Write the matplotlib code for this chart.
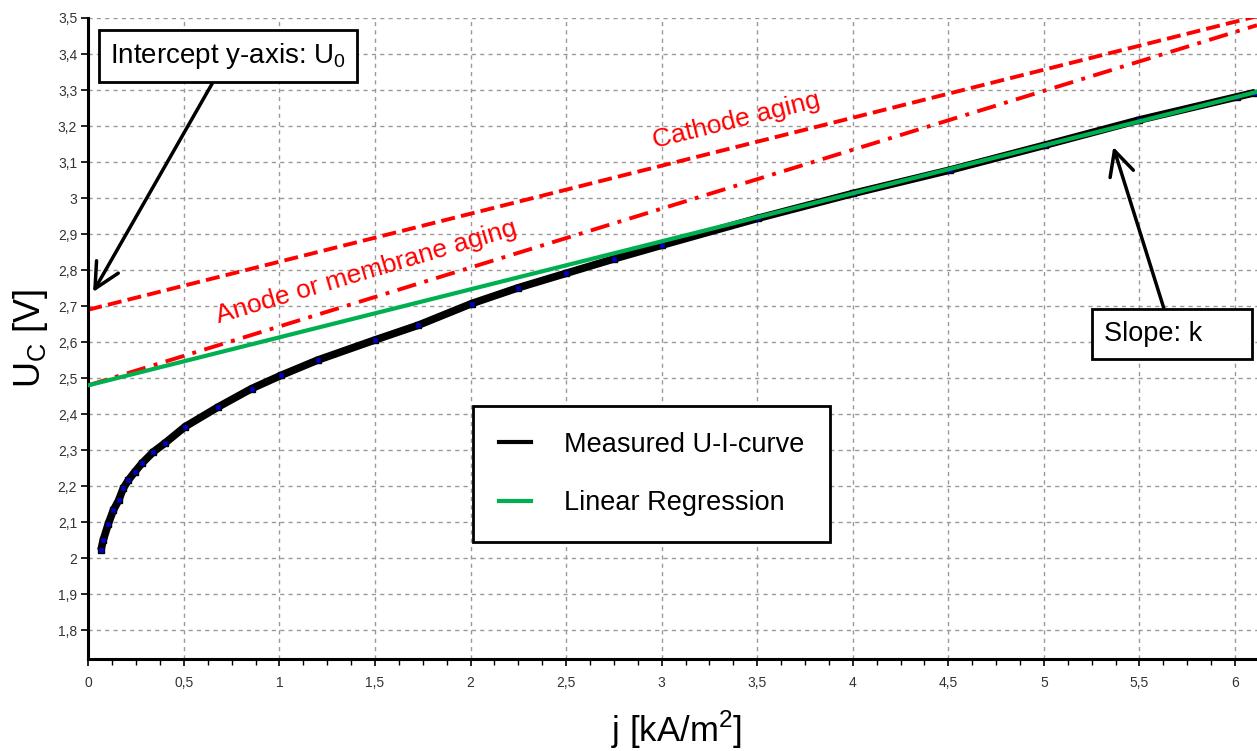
import matplotlib
matplotlib.use("Agg")
import matplotlib.pyplot as plt
from matplotlib.ticker import MultipleLocator, FuncFormatter
from matplotlib.lines import Line2D

plt.rcParams['font.family'] = ['Liberation Sans', 'DejaVu Sans']
plt.rcParams['mathtext.fontset'] = 'custom'
plt.rcParams['mathtext.rm'] = 'Liberation Sans'

# measured U-I curve
j_meas = [0.066, 0.078, 0.105, 0.131, 0.159, 0.183, 0.21, 0.244, 0.28, 0.34, 0.40,
          0.506, 0.68, 0.855, 1.01, 1.20, 1.50, 1.727, 2.006, 2.25, 2.50, 2.75, 3.0,
          3.505, 4.003, 4.51, 5.006, 5.50, 6.01, 6.105]
u_meas = [2.022, 2.05, 2.096, 2.133, 2.161, 2.194, 2.217, 2.24, 2.263, 2.295, 2.319,
          2.365, 2.42, 2.471, 2.508, 2.55, 2.606, 2.647, 2.707, 2.751, 2.791, 2.831, 2.869,
          2.944, 3.013, 3.078, 3.147, 3.217, 3.281, 3.293]

# straight lines, end points
j_line = [0.0, 6.115]
u_regression = [2.48, 3.295]
u_cathode = [2.69, 3.505]
u_anode = [2.48, 3.48]

red = '#ff0000'
green = '#00b050'


def comma(v, pos):
    s = '{:g}'.format(round(v, 3))
    return s.replace('.', ',')


fig = plt.figure(figsize=(12.57, 7.51), dpi=100)
ax = fig.add_axes([88.3 / 1257, 1 - 659 / 751, 1 - 88.3 / 1257, (659 - 18) / 751])

ax.set_xlim(0, 6.115)
ax.set_ylim(1.72, 3.5)

ax.xaxis.set_major_locator(MultipleLocator(0.5))
ax.xaxis.set_minor_locator(MultipleLocator(0.125))
ax.yaxis.set_major_locator(MultipleLocator(0.1))
ax.xaxis.set_major_formatter(FuncFormatter(comma))
ax.yaxis.set_major_formatter(FuncFormatter(comma))
ax.tick_params(axis='both', which='major', labelsize=10, labelcolor='#333333',
               length=5, width=1.2, direction='out')
ax.tick_params(axis='x', which='major', pad=7)
ax.tick_params(axis='y', which='major', pad=3)
ax.tick_params(axis='both', which='minor', length=4, width=1.0)

ax.grid(True, which='major', ls=(0, (3, 3)), color='#999999', lw=1)
ax.set_axisbelow(True)

for side in ['top', 'right']:
    ax.spines[side].set_visible(False)
for side in ['left', 'bottom']:
    ax.spines[side].set_linewidth(2.2)

# aging lines
l1, = ax.plot(j_line, u_cathode, color=red, lw=2.8)
l1.set_dashes([3.6, 1.6])
l2, = ax.plot(j_line, u_anode, color=red, lw=2.8)
l2.set_dashes([5.0, 2.2, 1.0, 2.2])

# regression and measurement
ax.plot(j_line, u_regression, color=green, lw=3, zorder=4)
ax.plot(j_meas, u_meas, color='black', lw=5.5, zorder=3, solid_capstyle='butt',
        solid_joinstyle='round')
ax.plot(j_meas, u_meas, ls='none', marker='s', ms=4, mfc='#0000cc', mec='black',
        mew=1, zorder=3)

# text labels
ax.text(3.389, 3.214, 'Cathode aging', color=red, fontsize=19, rotation=14,
        ha='center', va='center', rotation_mode='anchor')
ax.text(1.453, 2.795, 'Anode or membrane aging', color=red, fontsize=19, rotation=16.5,
        ha='center', va='center', rotation_mode='anchor')

arrow = dict(arrowstyle='->,head_length=0.9,head_width=0.45', color='black', lw=2.5,
             shrinkA=0, shrinkB=0)
ax.annotate(r'Intercept y-axis: U$_\mathregular{0}$', xy=(0.025, 2.739),
            xytext=(0.73, 3.394), fontsize=20, ha='center', va='center',
            bbox=dict(boxstyle='square,pad=0.4', fc='white', ec='black', lw=2),
            arrowprops=arrow, zorder=6)
ax.annotate('Slope: k     ', xy=(5.363, 3.142), xytext=(5.67, 2.622), fontsize=19.5,
            ha='center', va='center',
            bbox=dict(boxstyle='square,pad=0.45', fc='white', ec='black', lw=2),
            arrowprops=arrow, zorder=6)

# legend
handles = [Line2D([], [], color='black', lw=3), Line2D([], [], color=green, lw=3)]
leg = ax.legend(handles, ['Measured U-I-curve', 'Linear Regression'], loc='upper left',
                bbox_to_anchor=(473 / 1257, 1 - 406 / 751), bbox_transform=fig.transFigure,
                fontsize=19.5, fancybox=False, framealpha=1, edgecolor='black',
                handlelength=1.2, handletextpad=1.2, labelspacing=1.2, borderpad=0.95,
                borderaxespad=0)
leg.get_frame().set_linewidth(2)
leg.set_zorder(6)

ax.set_xlabel(r'j [kA/m$^\mathregular{2}$]', fontsize=25)
ax.set_ylabel(r'U$_\mathregular{C}$ [V]', fontsize=26)
ax.xaxis.set_label_coords(0.503, -0.078)
ax.yaxis.set_label_coords(-0.033, 0.5)

fig.savefig('out.png', dpi=100)
